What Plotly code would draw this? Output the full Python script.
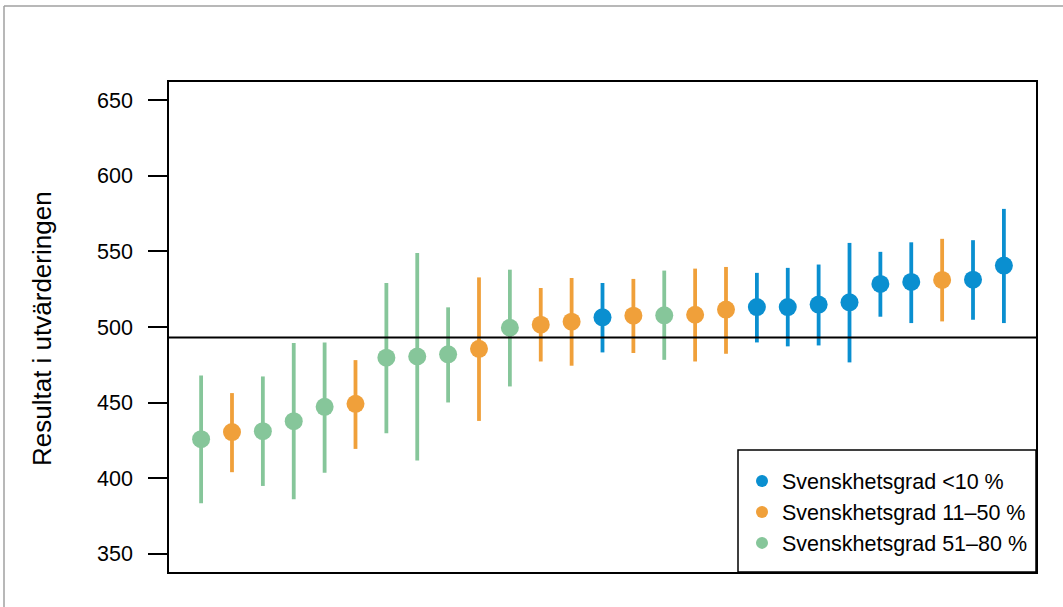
import plotly.graph_objects as go

# ---- data ----
values = [425.8, 430.5, 431.1, 437.7, 447.2, 449.2, 479.7, 480.5, 481.9, 485.6,
          499.5, 501.5, 503.5, 506.4, 507.5, 507.7, 508.1, 511.5, 513.2, 513.2,
          514.8, 516.3, 528.5, 529.8, 531.1, 531.3, 540.6]
upper = [468.0, 456.3, 467.3, 489.4, 489.8, 478.1, 529.1, 549.0, 513.0, 532.8,
         537.9, 525.8, 532.4, 529.1, 531.8, 537.3, 538.6, 539.7, 535.8, 539.1,
         541.3, 555.6, 549.7, 556.0, 558.3, 557.4, 578.1]
lower = [383.4, 404.0, 394.9, 386.1, 403.7, 419.4, 429.8, 411.7, 450.1, 437.9,
         460.7, 477.2, 474.4, 483.2, 482.8, 478.3, 477.2, 482.3, 489.8, 487.2,
         487.8, 476.6, 506.8, 502.6, 503.7, 504.8, 502.6]
groups = ["51–80", "11–50", "51–80", "51–80", "51–80", "11–50", "51–80", "51–80",
          "51–80", "11–50", "51–80", "11–50", "11–50", "<10", "11–50", "51–80",
          "11–50", "11–50", "<10", "<10", "<10", "<10", "<10", "<10", "11–50",
          "<10", "<10"]
group_order = ["<10", "11–50", "51–80"]
group_names = ["Svenskhetsgrad <10 %", "Svenskhetsgrad 11–50 %", "Svenskhetsgrad 51–80 %"]
reference_value = 493
y_ticks = [350, 400, 450, 500, 550, 600, 650]
y_title = "Resultat i utvärderingen"

# ---- styles ----
colors = {"<10": "#0a8fd0", "11–50": "#f0a03a", "51–80": "#86c69a"}
W, H = 1063, 607
L, R, T, B = 169, 27, 82, 35
font_family = "Liberation Sans, Arial, sans-serif"

fig = go.Figure()
n = len(values)
xs = list(range(1, n + 1))
for g, name in zip(group_order, group_names):
    idx = [i for i in range(n) if groups[i] == g]
    fig.add_trace(go.Scatter(
        x=[xs[i] for i in idx],
        y=[values[i] for i in idx],
        mode="markers",
        name=name,
        marker=dict(color=colors[g], size=18, line=dict(width=0)),
        error_y=dict(type="data", symmetric=False,
                     array=[upper[i] - values[i] for i in idx],
                     arrayminus=[values[i] - lower[i] for i in idx],
                     color=colors[g], thickness=3.8, width=0),
        showlegend=True,
    ))

pw = W - L - R
ph = H - T - B
def px_to_paper_x(p):
    return (p - L) / pw
def px_to_paper_y(p):
    return (H - B - p) / ph

shapes = [
    dict(type="line", xref="paper", yref="y", x0=0, x1=1,
         y0=reference_value, y1=reference_value, line=dict(color="black", width=2)),
    # legend frame
    dict(type="rect", xref="paper", yref="paper", layer="above",
         x0=px_to_paper_x(738), x1=1, y0=0, y1=px_to_paper_y(450),
         line=dict(color="black", width=1.5), fillcolor="white"),
    # outer grey frame (top and left)
    dict(type="line", xref="paper", yref="paper",
         x0=px_to_paper_x(4), x1=px_to_paper_x(W + 5),
         y0=px_to_paper_y(6), y1=px_to_paper_y(6), line=dict(color="#a0a0a0", width=1.5)),
    dict(type="line", xref="paper", yref="paper",
         x0=px_to_paper_x(4), x1=px_to_paper_x(4),
         y0=px_to_paper_y(6), y1=px_to_paper_y(H + 5), line=dict(color="#a0a0a0", width=1.5)),
]

fig.update_layout(
    width=W, height=H,
    margin=dict(l=L, r=R, t=T, b=B, pad=0),
    paper_bgcolor="white", plot_bgcolor="white",
    shapes=shapes,
    showlegend=True,
    legend=dict(x=px_to_paper_x(742), xanchor="left", y=px_to_paper_y(512), yanchor="middle",
                borderwidth=0, bgcolor="rgba(0,0,0,0)",
                font=dict(family=font_family, size=21.5, color="black"),
                itemsizing="constant", tracegroupgap=0),
    xaxis=dict(range=[-0.04, n + 1.04], showticklabels=False, ticks="",
               showgrid=False, zeroline=False, showline=True, mirror=True,
               linecolor="black", linewidth=1.5),
    yaxis=dict(range=[338, 662], tickvals=y_ticks, ticks="outside", ticklen=19,
               tickwidth=1.5, tickcolor="black", ticklabelstandoff=11,
               showgrid=False, zeroline=False, showline=True, mirror=True,
               linecolor="black", linewidth=1.5,
               tickfont=dict(family=font_family, size=21.5, color="black")),
)

fig.add_annotation(text=y_title, xref="paper", yref="paper",
                   x=px_to_paper_x(42), y=px_to_paper_y(329), textangle=-90,
                   showarrow=False, xanchor="center", yanchor="middle",
                   font=dict(family=font_family, size=26, color="black"))

fig.write_html("out.html", config={"displayModeBar": False},
               post_script="document.body.style.margin='0px';document.body.style.padding='0px';")
